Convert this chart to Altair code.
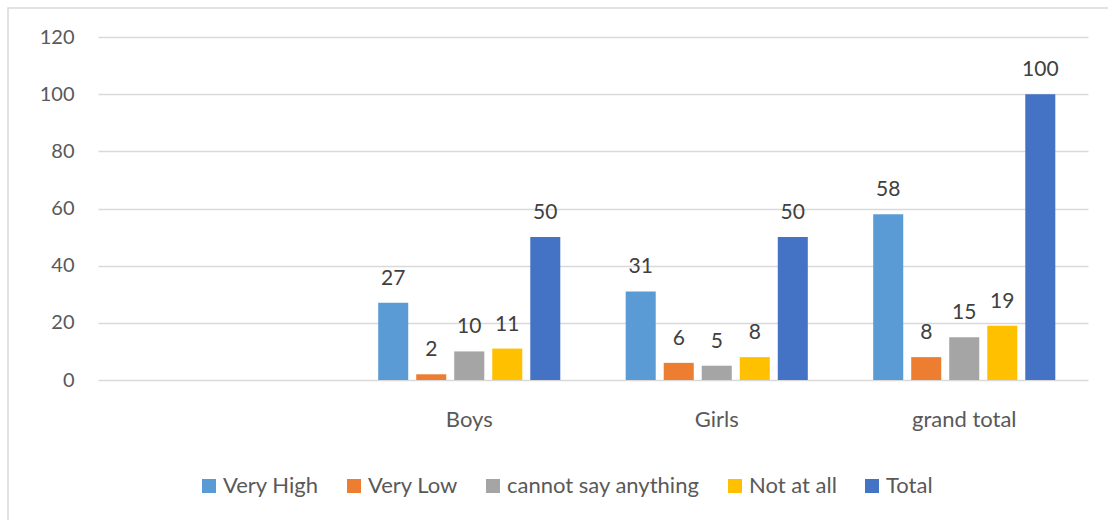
import altair as alt
import pandas as pd

# Category slots on the x axis (the first slot is left blank)
groups = [" ", "Boys", "Girls", "grand total"]
responses = ["Very High", "Very Low", "cannot say anything", "Not at all", "Total"]
colors = ["#5B9BD5", "#ED7D31", "#A5A5A5", "#FFC000", "#4472C4"]

boys = [27, 2, 10, 11, 50]
girls = [31, 6, 5, 8, 50]
grand_total = [58, 8, 15, 19, 100]

rows = []
for g, vals in zip(["Boys", "Girls", "grand total"], [boys, girls, grand_total]):
    for r, v in zip(responses, vals):
        rows.append({"group": g, "response": r, "value": v})
df = pd.DataFrame(rows)

FONT = "Lato"
W, H = 990, 343

x_enc = alt.X("group:N", sort=groups,
              scale=alt.Scale(domain=groups, paddingInner=0, paddingOuter=0),
              axis=alt.Axis(title=None, labelAngle=0, ticks=False, domain=False,
                            grid=False, labelPadding=29, labelFontSize=22,
                            labelColor="#595959", labelFont=FONT))
xo_enc = alt.XOffset("response:N", sort=responses,
                     scale=alt.Scale(domain=responses, paddingInner=0.21, paddingOuter=0.86))

base = alt.Chart(df)

bars = base.mark_bar().encode(
    x=x_enc,
    xOffset=xo_enc,
    y=alt.Y("value:Q",
            scale=alt.Scale(domain=[0, 120], nice=False),
            axis=alt.Axis(title=None, values=[0, 20, 40, 60, 80, 100, 120],
                          ticks=False, domain=False, labelPadding=24,
                          labelFontSize=20, labelColor="#595959", labelFont=FONT,
                          grid=True, gridColor="#d9d9d9", gridWidth=1.5)),
    color=alt.Color("response:N", sort=responses,
                    scale=alt.Scale(domain=responses, range=colors),
                    legend=alt.Legend(title=None, orient="none", direction="horizontal",
                                      legendX=100, legendY=438, symbolType="square",
                                      symbolSize=196, symbolStrokeWidth=0,
                                      labelFontSize=22, labelColor="#595959",
                                      labelFont=FONT, columnPadding=24, labelLimit=0,
                                      labelOffset=3, symbolOpacity=1)),
)

labels = base.mark_text(baseline="alphabetic", dy=-18, fontSize=21,
                        color="#404040", font=FONT).encode(
    x=alt.X("group:N", sort=groups),
    xOffset=alt.XOffset("response:N", sort=responses),
    y=alt.Y("value:Q"),
    text=alt.Text("value:Q"),
)

# Light frame around the whole chart
frame = alt.Chart(alt.Data(values=[{}])).mark_rect(
    fill=None, stroke="#d9d9d9", strokeWidth=1.5
).encode(
    x=alt.value(-90), x2=alt.value(1020),
    y=alt.value(-29), y2=alt.value(495),
)

chart = alt.layer(frame, bars, labels).properties(
    width=W, height=H,
    background="white",
    autosize=alt.AutoSizeParams(type="none"),
    padding={"left": 98, "top": 37, "right": 20, "bottom": 140},
).configure_view(strokeWidth=0)

chart.save("out.html", embed_options={"renderer": "svg", "actions": False})
